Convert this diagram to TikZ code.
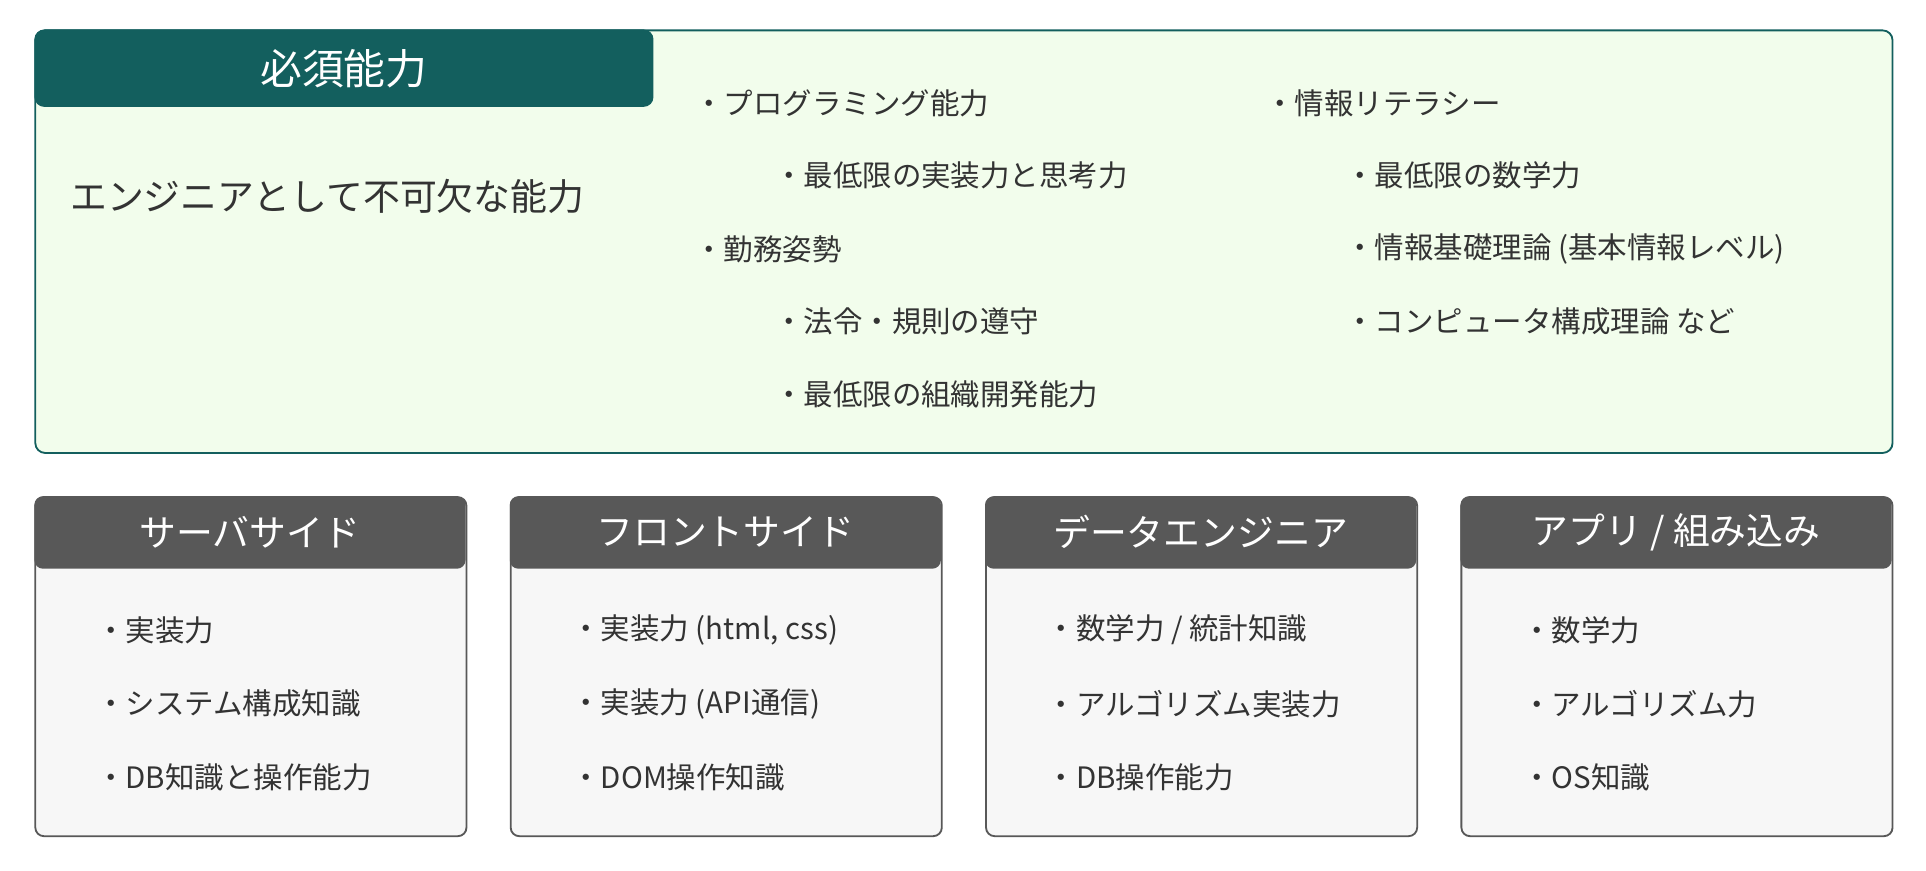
\documentclass[tikz,border=0pt]{standalone}
\usepackage{fontspec}
\setmainfont{Noto Sans CJK JP}
\definecolor{teal}{HTML}{135F5E}
\definecolor{lgreen}{HTML}{F2FDEC}
\definecolor{dgray}{HTML}{585858}
\definecolor{lgray}{HTML}{F7F7F7}
\definecolor{txt}{HTML}{333333}
\tikzset{
 item/.style={anchor=west,text=txt,font=\fontsize{24}{28}\selectfont,inner sep=0pt},
 hdr/.style={text=white,font=\fontsize{30}{34}\selectfont},
 cat/.style={draw=dgray,line width=1.5pt,fill=lgray,rounded corners=7pt},
 cathead/.style={fill=dgray,rounded corners=7pt}
}
\begin{document}
\begin{tikzpicture}[x=1pt,y=-1pt]
\useasboundingbox (0,0) rectangle (1568,709);
\node[draw=teal,line width=1.5pt,fill=lgreen,rounded corners=8pt,minimum width=1512pt,minimum height=344pt,anchor=north west] (top) at (28,24) {};
\fill[teal,rounded corners=8pt] (28,24) rectangle (532,87);
\node[hdr,font=\fontsize{34}{38}\selectfont] (th) at (280,56) {必須能力};
\node[item,font=\fontsize{30}{34}\selectfont] (sub) at (57,160) {エンジニアとして不可欠な能力};
\node[item] (a1) at (565,84) {・プログラミング能力};
\node[item] (a2) at (630,143) {・最低限の実装力と思考力};
\node[item] (a3) at (565,203) {・勤務姿勢};
\node[item] (a4) at (630,262) {・法令・規則の遵守};
\node[item] (a5) at (630,321) {・最低限の組織開発能力};
\node[item] (b1) at (1030,84) {・情報リテラシー};
\node[item] (b2) at (1095,143) {・最低限の数学力};
\node[item] (b3) at (1095,203) {・情報基礎理論 (基本情報レベル)};
\node[item] (b4) at (1095,262) {・コンピュータ構成理論 など};
\foreach \x/\t/\i/\j/\k [count=\n] in {
 28/サーバサイド/実装力/システム構成知識/DB知識と操作能力,
 415/フロントサイド/{実装力 (html, css)}/{実装力 (API通信)}/DOM操作知識,
 802/データエンジニア/{数学力 / 統計知識}/アルゴリズム実装力/DB操作能力,
 1189/{アプリ / 組み込み}/数学力/アルゴリズム力/OS知識}{
 \node[cat,minimum width=351pt,minimum height=276pt,anchor=north west] (c\n) at (\x,404) {};
 \fill[dgray,rounded corners=7pt] (\x,404) rectangle ++(351,59);
 \node[hdr] (h\n) at (\x+175.5,433) {\t};
 \node[item] (i\n) at (\x+50,513) {・\i};
 \node[item] (j\n) at (\x+50,573) {・\j};
 \node[item] (k\n) at (\x+50,633) {・\k};
}
\end{tikzpicture}
\end{document}
